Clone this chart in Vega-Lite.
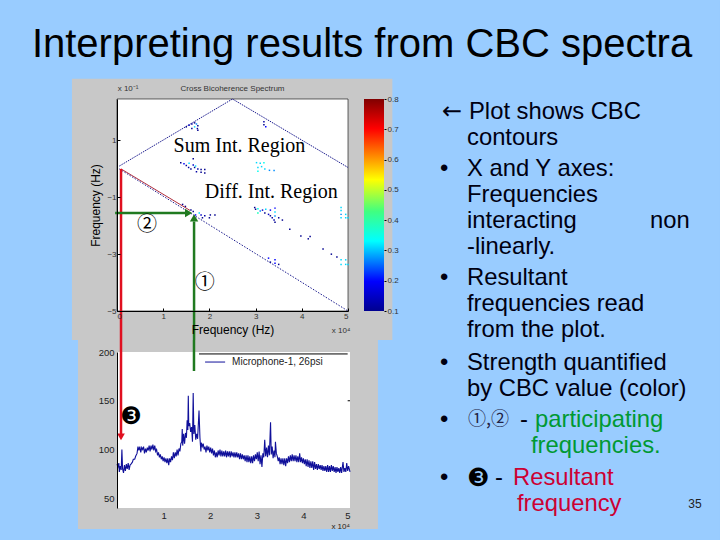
{
"$schema":"https://vega.github.io/schema/vega-lite/v6.json",
"padding":0,
"background":"#99CCFF",
"config":{"font":"Liberation Sans","view":{"stroke":null},
"axis":{"grid":false,"labelFont":"Liberation Sans","titleFont":"Liberation Sans","labelColor":"#333333","domainColor":"#000000","tickColor":"#000000","tickSize":3,"labelFontSize":9,"labelPadding":3,"titleFontWeight":"normal"}},
"columns":3,"align":"none","bounds":"flush","spacing":{"column":14,"row":41},
"concat":[
{"width":231,"height":212,
"layer":[
{"data":{"values":[{"a":-2.532,"b":13.05,"c":-13.09,"d":5.91}]},"mark":{"type":"rect","color":"#99CCFF"},
"encoding":{"x":{"field":"a","type":"quantitative","scale":{"domain":[0,5],"nice":false,"zero":false},"axis":{"zindex":1,"labelOverlap":false,"title":"Frequency (Hz)","titleFontSize":12,"titleColor":"#000000","titlePadding":4,"values":[0,1,2,3,4,5],"format":"d","labelFontSize":8,"tickSize":-3,"labelPadding":4}},"x2":{"field":"b"},
"y":{"field":"c","type":"quantitative","scale":{"domain":[-5,2.46],"nice":false,"zero":false},"axis":{"zindex":1,"labelOverlap":false,"title":"Frequency (Hz)","titleFontSize":12,"titleColor":"#000000","titlePadding":4,"values":[-5,-4,-3,-2,-1,0,1,2],"format":"d","labelFontSize":8,"tickSize":-3,"labelPadding":4}},"y2":{"field":"d"}}},
{"data":{"values":[{"a":-0.975,"b":5.96,"c":-6.02,"d":3.17}]},"mark":{"type":"rect","color":"#C8C8C8"},
"encoding":{"x":{"field":"a","type":"quantitative"},"x2":{"field":"b"},"y":{"field":"c","type":"quantitative"},"y2":{"field":"d"}}},
{"data":{"values":[{"a":0,"b":5,"c":-5,"d":2.46}]},"mark":{"type":"rect","color":"#FFFFFF","stroke":"#000000","strokeWidth":0.6},
"encoding":{"x":{"field":"a","type":"quantitative"},"x2":{"field":"b"},"y":{"field":"c","type":"quantitative"},"y2":{"field":"d"}}},
{"data":{"values":[{"f1":0.05,"f2":0.1,"o":1},{"f1":2.5,"f2":2.46,"o":2},{"f1":5,"f2":0.05,"o":3}]},"mark":{"type":"line","color":"#000080","strokeWidth":0.9,"strokeDash":[1.5,1]},
"encoding":{"x":{"field":"f1","type":"quantitative"},"y":{"field":"f2","type":"quantitative"},"order":{"field":"o"}}},
{"data":{"values":[{"f1":0.05,"f2":0,"o":1},{"f1":5,"f2":-5,"o":2}]},"mark":{"type":"line","color":"#000080","strokeWidth":0.9,"strokeDash":[1.5,1.5]},
"encoding":{"x":{"field":"f1","type":"quantitative"},"y":{"field":"f2","type":"quantitative"},"order":{"field":"o"}}},
{"data":{"values":[
{"f1":1.5,"f2":1.48,"cbc":0.1},{"f1":1.56,"f2":1.54,"cbc":0.15},{"f1":1.62,"f2":1.58,"cbc":0.12},{"f1":1.68,"f2":1.62,"cbc":0.1},{"f1":1.72,"f2":1.58,"cbc":0.25},{"f1":1.75,"f2":1.52,"cbc":0.1},{"f1":1.68,"f2":1.48,"cbc":0.3},{"f1":1.74,"f2":1.42,"cbc":0.12},{"f1":1.62,"f2":1.42,"cbc":0.1},{"f1":1.75,"f2":1.36,"cbc":0.1},
{"f1":3.18,"f2":1.66,"cbc":0.12},{"f1":3.18,"f2":1.55,"cbc":0.1},{"f1":3.22,"f2":1.48,"cbc":0.2},
{"f1":1.38,"f2":0.22,"cbc":0.1},{"f1":1.45,"f2":0.18,"cbc":0.2},{"f1":1.5,"f2":0.12,"cbc":0.1},{"f1":1.55,"f2":0.05,"cbc":0.12},{"f1":1.6,"f2":0,"cbc":0.1},{"f1":1.56,"f2":0.2,"cbc":0.3},{"f1":1.65,"f2":0.14,"cbc":0.15},{"f1":1.68,"f2":0.05,"cbc":0.1},{"f1":1.65,"f2":0.36,"cbc":0.1},{"f1":1.7,"f2":0.1,"cbc":0.3},{"f1":1.75,"f2":0.0,"cbc":0.12},{"f1":1.82,"f2":-0.02,"cbc":0.1},{"f1":1.82,"f2":-0.12,"cbc":0.1},{"f1":1.9,"f2":-0.02,"cbc":0.1},{"f1":1.9,"f2":-0.14,"cbc":0.1},{"f1":1.72,"f2":-0.1,"cbc":0.12},
{"f1":3.02,"f2":0.22,"cbc":0.3},{"f1":3.1,"f2":0.2,"cbc":0.3},{"f1":3.18,"f2":0.22,"cbc":0.35},{"f1":3.05,"f2":0.05,"cbc":0.3},{"f1":3.13,"f2":0.08,"cbc":0.3},{"f1":3.05,"f2":-0.08,"cbc":0.35},{"f1":3.2,"f2":0,"cbc":0.3},{"f1":3.3,"f2":-0.05,"cbc":0.25},{"f1":3.4,"f2":-0.06,"cbc":0.25},
{"f1":1.42,"f2":-1.25,"cbc":0.1},{"f1":1.48,"f2":-1.32,"cbc":0.1},{"f1":1.6,"f2":-1.45,"cbc":0.1},{"f1":1.65,"f2":-1.5,"cbc":0.1},{"f1":1.7,"f2":-1.62,"cbc":0.2},{"f1":1.78,"f2":-1.55,"cbc":0.3},{"f1":1.82,"f2":-1.62,"cbc":0.15},{"f1":1.85,"f2":-1.72,"cbc":0.1},{"f1":1.9,"f2":-1.65,"cbc":0.12},{"f1":2.0,"f2":-1.72,"cbc":0.1},{"f1":2.02,"f2":-1.62,"cbc":0.1},{"f1":2.12,"f2":-1.62,"cbc":0.1},
{"f1":2.98,"f2":-1.36,"cbc":0.1},{"f1":3.0,"f2":-1.42,"cbc":0.1},{"f1":3.05,"f2":-1.4,"cbc":0.35},{"f1":3.05,"f2":-1.55,"cbc":0.4},{"f1":3.1,"f2":-1.48,"cbc":0.25},{"f1":3.15,"f2":-1.45,"cbc":0.15},{"f1":3.2,"f2":-1.55,"cbc":0.1},{"f1":3.22,"f2":-1.42,"cbc":0.3},{"f1":3.28,"f2":-1.6,"cbc":0.15},{"f1":3.32,"f2":-1.45,"cbc":0.2},{"f1":3.32,"f2":-1.65,"cbc":0.1},{"f1":3.36,"f2":-1.72,"cbc":0.12},{"f1":3.4,"f2":-1.8,"cbc":0.12},{"f1":3.42,"f2":-1.38,"cbc":0.2},{"f1":3.42,"f2":-1.52,"cbc":0.3},{"f1":3.42,"f2":-1.66,"cbc":0.25},{"f1":3.42,"f2":-1.88,"cbc":0.1},{"f1":3.5,"f2":-1.72,"cbc":0.1},{"f1":3.58,"f2":-1.8,"cbc":0.1},{"f1":3.74,"f2":-2.12,"cbc":0.1},{"f1":3.98,"f2":-2.36,"cbc":0.1},{"f1":4.14,"f2":-2.46,"cbc":0.1},{"f1":4.18,"f2":-2.38,"cbc":0.1},{"f1":4.46,"f2":-2.82,"cbc":0.1},{"f1":4.64,"f2":-3,"cbc":0.1},{"f1":4.76,"f2":-3.1,"cbc":0.1},
{"f1":4.85,"f2":-1.36,"cbc":0.3},{"f1":4.85,"f2":-1.46,"cbc":0.3},{"f1":4.85,"f2":-1.6,"cbc":0.25},{"f1":4.85,"f2":-1.72,"cbc":0.3},{"f1":4.95,"f2":-1.6,"cbc":0.3},{"f1":4.95,"f2":-1.72,"cbc":0.3},{"f1":5,"f2":-1.72,"cbc":0.3},
{"f1":3.28,"f2":-3.14,"cbc":0.2},{"f1":3.32,"f2":-3.28,"cbc":0.1},{"f1":3.42,"f2":-3.2,"cbc":0.2},{"f1":3.42,"f2":-3.32,"cbc":0.2},{"f1":3.5,"f2":-3.36,"cbc":0.1},
{"f1":4.85,"f2":-3.2,"cbc":0.3},{"f1":4.85,"f2":-3.36,"cbc":0.3},{"f1":4.95,"f2":-3.2,"cbc":0.3},{"f1":4.95,"f2":-3.36,"cbc":0.3},{"f1":5,"f2":-3.36,"cbc":0.3}
]},"mark":{"type":"square","size":2.2,"opacity":1},
"encoding":{"x":{"field":"f1","type":"quantitative"},"y":{"field":"f2","type":"quantitative"},
"color":{"field":"cbc","type":"quantitative","legend":null,"scale":{"domain":[0.1,0.2,0.33,0.43,0.53,0.7,0.8],"range":["#00008F","#0000FF","#00FFFF","#40FF80","#FFFF00","#FF0000","#800000"]}}}},
{"data":{"values":[{"f1":0.087,"f2":0,"o":1},{"f1":1.58,"f2":-1.46,"o":2}]},"mark":{"type":"line","color":"#B03040","strokeWidth":1},
"encoding":{"x":{"field":"f1","type":"quantitative"},"y":{"field":"f2","type":"quantitative"},"order":{"field":"o"}}},
{"data":{"values":[{"f1":0.087,"a":0,"b":-6.02}]},"mark":{"type":"rule","color":"#E01020","strokeWidth":2.5},
"encoding":{"x":{"field":"f1","type":"quantitative"},"y":{"field":"a","type":"quantitative"},"y2":{"field":"b"}}},
{"data":{"values":[{"a":-0.04,"b":1.5,"f2":-1.55}]},"mark":{"type":"rule","color":"#207A20","strokeWidth":2.5},
"encoding":{"x":{"field":"a","type":"quantitative"},"x2":{"field":"b"},"y":{"field":"f2","type":"quantitative"}}},
{"data":{"values":[{"f1":1.668,"a":-1.85,"b":-6.02}]},"mark":{"type":"rule","color":"#207A20","strokeWidth":2.5},
"encoding":{"x":{"field":"f1","type":"quantitative"},"y":{"field":"a","type":"quantitative"},"y2":{"field":"b"}}},
{"data":{"values":[{"f1":1.55,"f2":-1.55}]},"mark":{"type":"point","shape":"triangle-right","filled":true,"size":70,"color":"#207A20","opacity":1},
"encoding":{"x":{"field":"f1","type":"quantitative"},"y":{"field":"f2","type":"quantitative"}}},
{"data":{"values":[{"f1":1.668,"f2":-1.72}]},"mark":{"type":"point","shape":"triangle-up","filled":true,"size":70,"color":"#207A20","opacity":1},
"encoding":{"x":{"field":"f1","type":"quantitative"},"y":{"field":"f2","type":"quantitative"}}},
{"data":{"values":[{"t":"Sum Int. Region","f1":2.65,"f2":0.82},{"t":"Diff. Int. Region","f1":3.34,"f2":-0.8}]},"mark":{"type":"text","font":"Liberation Serif","fontSize":20,"color":"#000000","align":"center","baseline":"middle"},
"encoding":{"x":{"field":"f1","type":"quantitative"},"y":{"field":"f2","type":"quantitative"},"text":{"field":"t"}}},
{"data":{"values":[{"t":"①","f1":1.9,"f2":-4.03},{"t":"②","f1":0.65,"f2":-1.98}]},"mark":{"type":"text","font":"Noto Sans CJK JP","fontSize":20,"color":"#000000","align":"center","baseline":"middle"},
"encoding":{"x":{"field":"f1","type":"quantitative"},"y":{"field":"f2","type":"quantitative"},"text":{"field":"t"}}},
{"data":{"values":[{"t":"Cross Bicoherence Spectrum","f1":2.5,"f2":2.8},{"t":"x 10⁻¹","f1":0.24,"f2":2.8},{"t":"x 10⁴","f1":4.85,"f2":-5.7}]},"mark":{"type":"text","fontSize":8,"color":"#333333","align":"center","baseline":"middle"},
"encoding":{"x":{"field":"f1","type":"quantitative"},"y":{"field":"f2","type":"quantitative"},"text":{"field":"t"}}}
]},
{"width":20,"height":212,
"data":{"values":[{"a":0.1,"b":0.8}]},
"mark":{"type":"rect","color":{"gradient":"linear","x1":0,"y1":1,"x2":0,"y2":0,"stops":[{"offset":0,"color":"#00008F"},{"offset":0.14,"color":"#0000FF"},{"offset":0.33,"color":"#00FFFF"},{"offset":0.47,"color":"#40FF80"},{"offset":0.62,"color":"#FFFF00"},{"offset":0.86,"color":"#FF0000"},{"offset":1,"color":"#800000"}]}},
"encoding":{"y":{"field":"a","type":"quantitative","scale":{"domain":[0.1,0.8],"nice":false,"zero":false},"axis":{"zindex":1,"orient":"right","title":null,"values":[0.1,0.2,0.3,0.4,0.5,0.6,0.7,0.8],"format":".1f","labelFontSize":8,"tickSize":2,"labelPadding":1,"domain":false}},"y2":{"field":"b"}}},
{"width":324,"height":212,
"data":{"values":[
{"t":"Plot shows CBC","c":71,"l":1,"r":"body"},{"t":"contours","c":69,"l":2,"r":"body"},
{"t":"•","c":42,"l":3.2,"r":"body"},{"t":"X and Y axes:","c":69,"l":3.2,"r":"body"},{"t":"Frequencies","c":69,"l":4.2,"r":"body"},{"t":"interacting","c":69,"l":5.2,"r":"body"},{"t":"non","c":252,"l":5.2,"r":"body"},{"t":"-linearly.","c":69,"l":6.2,"r":"body"},
{"t":"•","c":42,"l":7.4,"r":"body"},{"t":"Resultant","c":69,"l":7.4,"r":"body"},{"t":"frequencies read","c":69,"l":8.4,"r":"body"},{"t":"from the plot.","c":69,"l":9.4,"r":"body"},
{"t":"•","c":42,"l":10.65,"r":"body"},{"t":"Strength quantified","c":69,"l":10.65,"r":"body"},{"t":"by CBC value (color)","c":69,"l":11.65,"r":"body"},
{"t":"•","c":42,"l":12.85,"r":"body"},{"t":"-","c":122,"l":12.85,"r":"body"},{"t":"participating","c":137,"l":12.85,"r":"part"},{"t":"frequencies.","c":133,"l":13.85,"r":"part"},
{"t":"•","c":42,"l":15.08,"r":"body"},{"t":"-","c":97,"l":15.08,"r":"body"},{"t":"Resultant","c":115,"l":15.08,"r":"res"},{"t":"frequency","c":119,"l":16.08,"r":"res"}
]},
"layer":[
{"mark":{"type":"text","font":"Liberation Sans, Noto Sans CJK JP","fontSize":23.8,"align":"left","baseline":"middle"},
"encoding":{"x":{"field":"c","type":"quantitative","axis":null,"scale":{"domain":[0,324],"nice":false,"zero":false}},"y":{"field":"l","type":"quantitative","axis":null,"scale":{"domain":[8.654,0.5],"nice":false,"zero":false}},"text":{"field":"t"},"color":{"field":"r","type":"nominal","legend":null,"scale":{"domain":["body","part","res"],"range":["#000011","#009933","#CC0033"]}}}},
{"data":{"values":[{"t":"←","c":44,"l":1}]},"mark":{"type":"text","font":"DejaVu Sans","fontSize":24,"align":"left","baseline":"middle","color":"#000011"},
"encoding":{"x":{"field":"c","type":"quantitative"},"y":{"field":"l","type":"quantitative"},"text":{"field":"t"}}},
{"data":{"values":[{"t":"①,②","c":70,"l":12.85}]},"mark":{"type":"text","font":"Noto Sans CJK JP","fontSize":18,"align":"left","baseline":"middle","color":"#222244"},
"encoding":{"x":{"field":"c","type":"quantitative"},"y":{"field":"l","type":"quantitative"},"text":{"field":"t"}}},
{"data":{"values":[{"t":"❸","c":69,"l":15.08}]},"mark":{"type":"text","font":"DejaVu Sans","fontSize":25,"align":"left","baseline":"middle","color":"#000000"},
"encoding":{"x":{"field":"c","type":"quantitative"},"y":{"field":"l","type":"quantitative"},"text":{"field":"t"}}},
{"data":{"values":[{"t":"Interpreting results from CBC spectra","c":-36,"l":-1.58}]},"mark":{"type":"text","fontSize":40,"align":"center","baseline":"middle","color":"#000000"},
"encoding":{"x":{"field":"c","type":"quantitative"},"y":{"field":"l","type":"quantitative"},"text":{"field":"t"}}},
{"data":{"values":[{"t":"35","c":297,"l":16.08}]},"mark":{"type":"text","fontSize":12,"align":"center","baseline":"middle","color":"#222222"},
"encoding":{"x":{"field":"c","type":"quantitative"},"y":{"field":"l","type":"quantitative"},"text":{"field":"t"}}}
]},
{"width":233,"height":156,
"layer":[
{"data":{"values":[{"a":-0.837,"b":5.6,"c":18.5,"d":212.3}]},"mark":{"type":"rect","color":"#C8C8C8"},
"encoding":{"x":{"field":"a","type":"quantitative","scale":{"domain":[0,5],"nice":false,"zero":false},"axis":{"zindex":1,"title":null,"values":[1,2,3,4,5],"format":"d","domain":false,"tickSize":0,"labelFontSize":9.5,"labelColor":"#222222","labelPadding":2}},"x2":{"field":"b"},
"y":{"field":"c","type":"quantitative","scale":{"domain":[40,200],"nice":false,"zero":false},"axis":{"zindex":1,"title":null,"values":[50,100,150,200],"format":"d","labelFontSize":9.5,"labelColor":"#222222","tickSize":0,"labelPadding":3,"domainWidth":1}},"y2":{"field":"d"}}},
{"data":{"values":[{"a":0,"b":5,"c":40,"d":200}]},"mark":{"type":"rect","color":"#FFFFFF"},
"encoding":{"x":{"field":"a","type":"quantitative"},"x2":{"field":"b"},"y":{"field":"c","type":"quantitative"},"y2":{"field":"d"}}},
{"data":{"values":[
{"f":0,"v":85},{"f":0.02,"v":82},{"f":0.04,"v":86},{"f":0.05,"v":77},{"f":0.07,"v":83},{"f":0.09,"v":79},{"f":0.105,"v":100},{"f":0.12,"v":80},{"f":0.14,"v":76},{"f":0.16,"v":84},{"f":0.18,"v":78},{"f":0.2,"v":85},{"f":0.22,"v":80},{"f":0.24,"v":86},{"f":0.26,"v":79},{"f":0.28,"v":84},{"f":0.3,"v":85},{"f":0.33,"v":87},{"f":0.35,"v":90},{"f":0.38,"v":90},{"f":0.4,"v":93},{"f":0.43,"v":96},{"f":0.45,"v":103},{"f":0.47,"v":99},{"f":0.49,"v":103},{"f":0.51,"v":97},{"f":0.53,"v":102},{"f":0.55,"v":100},{"f":0.57,"v":103},{"f":0.59,"v":96},{"f":0.61,"v":101},{"f":0.63,"v":97},{"f":0.65,"v":102},{"f":0.67,"v":99},{"f":0.69,"v":104},{"f":0.71,"v":98},{"f":0.73,"v":104},{"f":0.75,"v":100},{"f":0.77,"v":105},{"f":0.79,"v":99},{"f":0.81,"v":104},{"f":0.83,"v":98},{"f":0.85,"v":100},{"f":0.87,"v":94},{"f":0.89,"v":97},{"f":0.91,"v":92},{"f":0.93,"v":95},{"f":0.95,"v":90},{"f":0.97,"v":93},{"f":0.99,"v":88},{"f":1.01,"v":92},{"f":1.03,"v":87},{"f":1.05,"v":91},{"f":1.07,"v":86},{"f":1.09,"v":91},{"f":1.11,"v":84},{"f":1.13,"v":91},{"f":1.15,"v":87},{"f":1.17,"v":93},{"f":1.19,"v":89},{"f":1.21,"v":97},{"f":1.23,"v":91},{"f":1.25,"v":97},{"f":1.27,"v":93},{"f":1.29,"v":100},{"f":1.31,"v":94},{"f":1.33,"v":101},{"f":1.35,"v":98},{"f":1.37,"v":106},{"f":1.39,"v":108},{"f":1.4,"v":121},{"f":1.41,"v":104},{"f":1.43,"v":116},{"f":1.45,"v":106},{"f":1.47,"v":117},{"f":1.49,"v":112},{"f":1.505,"v":130},{"f":1.52,"v":120},{"f":1.53,"v":155},{"f":1.54,"v":124},{"f":1.56,"v":127},{"f":1.58,"v":118},{"f":1.6,"v":123},{"f":1.62,"v":108},{"f":1.635,"v":158},{"f":1.65,"v":116},{"f":1.67,"v":125},{"f":1.69,"v":110},{"f":1.71,"v":116},{"f":1.73,"v":111},{"f":1.76,"v":140},{"f":1.78,"v":112},{"f":1.8,"v":98},{"f":1.81,"v":107},{"f":1.83,"v":103},{"f":1.85,"v":106},{"f":1.87,"v":100},{"f":1.89,"v":103},{"f":1.91,"v":97},{"f":1.93,"v":104},{"f":1.95,"v":99},{"f":1.97,"v":103},{"f":1.99,"v":97},{"f":2.01,"v":102},{"f":2.03,"v":96},{"f":2.05,"v":101},{"f":2.07,"v":94},{"f":2.09,"v":99},{"f":2.11,"v":92},{"f":2.13,"v":97},{"f":2.15,"v":92},{"f":2.17,"v":99},{"f":2.19,"v":94},{"f":2.21,"v":100},{"f":2.23,"v":93},{"f":2.25,"v":99},{"f":2.27,"v":93},{"f":2.29,"v":98},{"f":2.31,"v":93},{"f":2.33,"v":99},{"f":2.35,"v":92},{"f":2.37,"v":98},{"f":2.39,"v":93},{"f":2.41,"v":98},{"f":2.43,"v":92},{"f":2.45,"v":98},{"f":2.47,"v":93},{"f":2.49,"v":97},{"f":2.51,"v":92},{"f":2.53,"v":97},{"f":2.55,"v":92},{"f":2.57,"v":97},{"f":2.59,"v":92},{"f":2.61,"v":96},{"f":2.63,"v":90},{"f":2.65,"v":96},{"f":2.67,"v":90},{"f":2.69,"v":95},{"f":2.71,"v":90},{"f":2.73,"v":94},{"f":2.75,"v":88},{"f":2.77,"v":94},{"f":2.79,"v":87},{"f":2.81,"v":94},{"f":2.83,"v":87},{"f":2.85,"v":93},{"f":2.87,"v":86},{"f":2.89,"v":93},{"f":2.91,"v":86},{"f":2.93,"v":94},{"f":2.95,"v":88},{"f":2.97,"v":95},{"f":2.99,"v":90},{"f":3.01,"v":97},{"f":3.03,"v":88},{"f":3.05,"v":98},{"f":3.07,"v":85},{"f":3.09,"v":94},{"f":3.11,"v":82},{"f":3.13,"v":96},{"f":3.15,"v":92},{"f":3.17,"v":110},{"f":3.19,"v":93},{"f":3.21,"v":102},{"f":3.23,"v":92},{"f":3.25,"v":104},{"f":3.27,"v":94},{"f":3.295,"v":128},{"f":3.31,"v":95},{"f":3.33,"v":103},{"f":3.35,"v":91},{"f":3.37,"v":99},{"f":3.39,"v":92},{"f":3.4,"v":108},{"f":3.42,"v":96},{"f":3.44,"v":93},{"f":3.46,"v":88},{"f":3.48,"v":92},{"f":3.5,"v":85},{"f":3.52,"v":91},{"f":3.54,"v":85},{"f":3.56,"v":91},{"f":3.58,"v":84},{"f":3.6,"v":91},{"f":3.62,"v":83},{"f":3.64,"v":91},{"f":3.66,"v":86},{"f":3.68,"v":93},{"f":3.7,"v":87},{"f":3.72,"v":94},{"f":3.74,"v":88},{"f":3.76,"v":95},{"f":3.78,"v":88},{"f":3.8,"v":94},{"f":3.82,"v":88},{"f":3.84,"v":94},{"f":3.86,"v":87},{"f":3.88,"v":93},{"f":3.9,"v":87},{"f":3.92,"v":96},{"f":3.94,"v":87},{"f":3.96,"v":92},{"f":3.98,"v":86},{"f":4,"v":91},{"f":4.02,"v":85},{"f":4.04,"v":90},{"f":4.06,"v":83},{"f":4.08,"v":90},{"f":4.1,"v":82},{"f":4.12,"v":89},{"f":4.14,"v":81},{"f":4.16,"v":88},{"f":4.18,"v":81},{"f":4.2,"v":88},{"f":4.22,"v":79},{"f":4.24,"v":87},{"f":4.26,"v":80},{"f":4.28,"v":85},{"f":4.3,"v":79},{"f":4.32,"v":85},{"f":4.34,"v":80},{"f":4.36,"v":84},{"f":4.38,"v":79},{"f":4.4,"v":84},{"f":4.42,"v":78},{"f":4.44,"v":83},{"f":4.46,"v":78},{"f":4.48,"v":83},{"f":4.5,"v":77},{"f":4.52,"v":84},{"f":4.54,"v":77},{"f":4.56,"v":83},{"f":4.58,"v":77},{"f":4.6,"v":84},{"f":4.62,"v":78},{"f":4.64,"v":83},{"f":4.66,"v":77},{"f":4.68,"v":82},{"f":4.7,"v":76},{"f":4.72,"v":82},{"f":4.74,"v":77},{"f":4.76,"v":81},{"f":4.78,"v":76},{"f":4.8,"v":82},{"f":4.82,"v":76},{"f":4.85,"v":87},{"f":4.87,"v":77},{"f":4.89,"v":81},{"f":4.91,"v":77},{"f":4.93,"v":86},{"f":4.95,"v":78},{"f":4.97,"v":83},{"f":5,"v":77}
]},"mark":{"type":"line","color":"#10109A","strokeWidth":1.1},
"encoding":{"x":{"field":"f","type":"quantitative"},"y":{"field":"v","type":"quantitative"}}},
{"data":{"values":[{"a":1.76,"b":4.95,"v":198}]},"mark":{"type":"rule","color":"#000000","strokeWidth":1},
"encoding":{"x":{"field":"a","type":"quantitative"},"x2":{"field":"b"},"y":{"field":"v","type":"quantitative"}}},
{"data":{"values":[{"a":4.95,"b":5,"v":150}]},"mark":{"type":"rule","color":"#000000","strokeWidth":1},
"encoding":{"x":{"field":"a","type":"quantitative"},"x2":{"field":"b"},"y":{"field":"v","type":"quantitative"}}},
{"data":{"values":[{"a":1.89,"b":2.32,"v":189.7}]},"mark":{"type":"rule","color":"#10109A","strokeWidth":1},
"encoding":{"x":{"field":"a","type":"quantitative"},"x2":{"field":"b"},"y":{"field":"v","type":"quantitative"}}},
{"data":{"values":[{"t":"Microphone-1, 26psi","f":2.47,"v":189.7}]},"mark":{"type":"text","fontSize":10,"align":"left","baseline":"middle","color":"#222222"},
"encoding":{"x":{"field":"f","type":"quantitative"},"y":{"field":"v","type":"quantitative"},"text":{"field":"t"}}},
{"data":{"values":[{"t":"x 10⁴","f":4.8,"v":20.5}]},"mark":{"type":"text","fontSize":8,"align":"center","baseline":"middle","color":"#222222"},
"encoding":{"x":{"field":"f","type":"quantitative"},"y":{"field":"v","type":"quantitative"},"text":{"field":"t"}}},
{"data":{"values":[{"a":0.086,"b":212.3,"c":113}]},"mark":{"type":"rule","color":"#E01020","strokeWidth":2.5},
"encoding":{"x":{"field":"a","type":"quantitative"},"y":{"field":"b","type":"quantitative"},"y2":{"field":"c"}}},
{"data":{"values":[{"a":0.086,"v":113}]},"mark":{"type":"point","shape":"triangle-down","filled":true,"size":60,"color":"#E01020","opacity":1},
"encoding":{"x":{"field":"a","type":"quantitative"},"y":{"field":"v","type":"quantitative"}}},
{"data":{"values":[{"a":1.652,"b":212.3,"c":180.5}]},"mark":{"type":"rule","color":"#207A20","strokeWidth":2.5},
"encoding":{"x":{"field":"a","type":"quantitative"},"y":{"field":"b","type":"quantitative"},"y2":{"field":"c"}}},
{"data":{"values":[{"t":"❸","a":0.3,"v":133}]},"mark":{"type":"text","font":"DejaVu Sans","fontSize":24,"align":"center","baseline":"middle","color":"#000000"},
"encoding":{"x":{"field":"a","type":"quantitative"},"y":{"field":"v","type":"quantitative"},"text":{"field":"t"}}}
]}
]
}
